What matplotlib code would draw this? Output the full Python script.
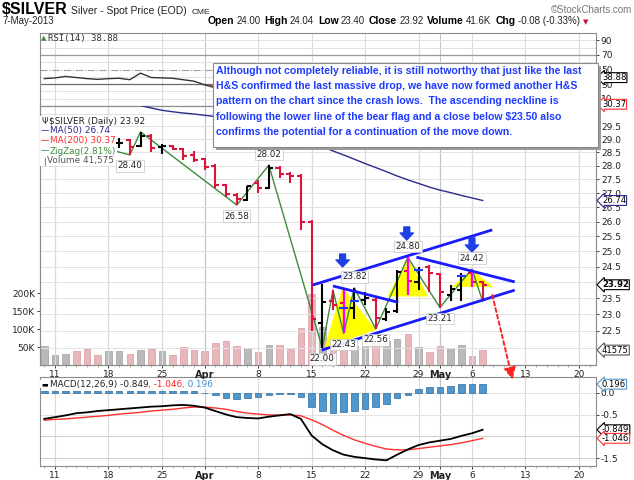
import numpy as np
import matplotlib
matplotlib.use("Agg")
import matplotlib.pyplot as plt
from matplotlib.patches import Rectangle, Polygon, FancyArrowPatch
from matplotlib.ticker import FixedLocator, NullLocator, FixedFormatter

W, H = 634, 480

# trading-day index, 0 = 8-Mar-2013, 41 = 7-May-2013
days = np.arange(42)
tick_pos = [1, 6, 11, 15, 20, 25, 30, 35, 37, 40, 45, 50]
tick_lab = ["11", "18", "25", "Apr", "8", "15", "22", "29", "May", "6", "13", "20"]
month_ticks = [15, 37]

opens = [28.80, 28.95, 29.00, 29.05, 28.85, 28.70, 28.65, 28.84, 28.95, 28.75,
         29.12, 28.70, 28.72, 28.62, 28.40, 28.25, 28.00, 27.28, 26.95, 26.75,
         27.35, 27.20, 27.92, 27.70, 27.62, 25.99, 22.74, 23.40, 23.35, 23.20,
         23.45, 23.45, 22.85, 23.10, 24.35, 24.00, 24.50, 24.25, 23.60, 23.75,
         24.30, 24.00]
highs = [29.05, 29.10, 29.15, 29.10, 28.95, 28.85, 28.90, 29.04, 29.00, 29.28,
         29.18, 28.80, 28.78, 28.68, 28.55, 28.30, 28.07, 27.32, 27.00, 27.27,
         27.46, 28.02, 27.98, 27.75, 27.68, 26.05, 23.94, 23.75, 23.80, 23.82,
         23.70, 23.50, 23.20, 24.40, 24.80, 24.50, 24.55, 24.30, 23.90, 24.30,
         24.42, 24.04]
lows = [28.60, 28.75, 28.85, 28.75, 28.60, 28.55, 28.60, 28.66, 28.40, 28.70,
        28.50, 28.45, 28.58, 28.22, 28.15, 27.85, 27.20, 26.85, 26.58, 26.72,
        27.02, 27.15, 27.55, 27.35, 25.72, 22.50, 22.00, 23.13, 22.43, 22.85,
        23.30, 22.56, 22.80, 23.05, 23.60, 23.75, 23.70, 23.21, 23.40, 23.40,
        23.85, 23.40]
closes = [28.95, 29.00, 29.05, 28.85, 28.70, 28.65, 28.83, 28.86, 28.70, 29.12,
          28.68, 28.72, 28.62, 28.35, 28.22, 27.95, 27.28, 26.98, 26.80, 27.25,
          27.20, 27.92, 27.70, 27.62, 26.00, 22.85, 23.37, 23.30, 23.20, 23.42,
          23.50, 22.88, 23.06, 24.33, 24.05, 24.40, 24.28, 23.70, 23.80, 24.20,
          24.00, 23.92]
volume_k = [53, 27, 32, 39, 44, 27, 39, 39, 30, 41, 44, 39, 27, 50, 41, 39,
            60, 67, 53, 48, 37, 56, 56, 44, 103, 197, 105, 87, 60, 52, 52, 68,
            66, 73, 87, 49, 37, 52, 46, 57, 25, 41.575]
ma50 = [30.90, 30.85, 30.80, 30.75, 30.70, 30.62, 30.55, 30.50, 30.42, 30.32,
        30.22, 30.13, 30.07, 30.02, 29.98, 29.93, 29.88, 29.80, 29.72, 29.64,
        29.56, 29.48, 29.40, 29.30, 29.18, 28.95, 28.72, 28.55, 28.40, 28.24,
        28.08, 27.93, 27.78, 27.62, 27.48, 27.35, 27.22, 27.11, 27.02, 26.92,
        26.83, 26.74]
ma200 = [30.80, 30.78, 30.77, 30.75, 30.74, 30.72, 30.71, 30.69, 30.68, 30.67,
         30.65, 30.64, 30.63, 30.62, 30.60, 30.59, 30.58, 30.57, 30.56, 30.55,
         30.54, 30.53, 30.52, 30.51, 30.50, 30.49, 30.48, 30.47, 30.46, 30.45,
         30.45, 30.44, 30.43, 30.42, 30.42, 30.41, 30.40, 30.40, 30.39, 30.38,
         30.38, 30.37]
zz_idx = [2, 8, 9, 18, 21, 26, 27, 28, 29, 31, 34, 37, 40, 41]
zz_val = [29.05, 28.40, 29.28, 26.58, 28.02, 22.00, 23.75, 22.43, 23.82, 22.56,
          24.80, 23.21, 24.42, 23.40]
zz_labels = {8: "28.40", 18: "26.58", 21: "28.02", 26: "22.00", 28: "22.43",
             29: "23.82", 31: "22.56", 34: "24.80", 37: "23.21", 40: "24.42"}
rsi = [37.5, 38.5, 40.5, 39.0, 37.5, 36.5, 37.5, 38.0, 36.0, 45.0, 39.0, 38.5,
       38.0, 36.0, 34.0, 29.0, 25.0, 22.0, 21.0, 28.0, 27.0, 38.0, 35.0, 34.0,
       22.0, 12.0, 22.0, 21.0, 20.0, 24.0, 25.0, 21.0, 24.0, 38.0, 36.0, 41.0,
       39.0, 34.0, 36.0, 41.0, 40.0, 38.88]
macd = [-0.60, -0.56, -0.52, -0.47, -0.45, -0.42, -0.40, -0.38, -0.36, -0.34,
        -0.32, -0.31, -0.29, -0.28, -0.30, -0.34, -0.42, -0.50, -0.56, -0.58,
        -0.59, -0.55, -0.52, -0.49, -0.60, -0.98, -1.18, -1.32, -1.42, -1.47,
        -1.50, -1.53, -1.55, -1.42, -1.30, -1.20, -1.14, -1.10, -1.06, -0.99,
        -0.93, -0.849]
signal = [-0.63, -0.61, -0.60, -0.58, -0.56, -0.54, -0.52, -0.49, -0.47, -0.45,
          -0.42, -0.40, -0.38, -0.35, -0.33, -0.33, -0.35, -0.38, -0.43, -0.47,
          -0.49, -0.51, -0.51, -0.51, -0.53, -0.62, -0.73, -0.86, -0.98, -1.08,
          -1.16, -1.23, -1.29, -1.31, -1.31, -1.28, -1.25, -1.22, -1.19, -1.15,
          -1.10, -1.046]
hist = [0.03, 0.04, 0.05, 0.05, 0.05, 0.05, 0.05, 0.05, 0.05, 0.05, 0.05, 0.05,
        0.05, 0.05, 0.03, -0.01, -0.06, -0.12, -0.14, -0.12, -0.10, -0.06,
        -0.04, -0.02, -0.09, -0.33, -0.41, -0.46, -0.44, -0.42, -0.37, -0.32,
        -0.25, -0.11, -0.05, 0.08, 0.14, 0.14, 0.15, 0.19, 0.19, 0.196]

# hand-drawn annotations (trading-day index, price)
channel_lines = [((25.1, 23.91), (41.9, 25.72)), ((25.95, 21.94), (44.0, 23.75)),
                 ((27.0, 23.88), (33.1, 23.37)), ((34.8, 24.81), (44.0, 24.01))]
hs_triangles = [[(26.2, 22.0), (27.9, 23.85), (31.0, 22.53)],
                [(32.1, 23.55), (34.0, 24.80), (35.9, 23.55)],
                [(38.1, 23.85), (40.0, 24.40), (42.0, 23.85)]]
down_arrows = [(27.9, 24.91, 24.49), (33.9, 25.82, 25.38), (40.0, 25.45, 24.98)]
target_arrow = ((41.9, 23.60), (43.8, 21.10))
magenta_idx = [28, 34, 40]
blue_tick_idx = [28, 29, 35, 39]

UP, DOWN = "black", "#dc143c"
GRID = "#e2e2e2"
SPINE = "#8c8c8c"
FS = 6.5

fig = plt.figure(figsize=(W / 100, H / 100), dpi=100)


def rect(l, t, r, b):
    return [l / W, 1 - b / H, (r - l) / W, (b - t) / H]


XL = (-0.4, 51.6)


def style(ax):
    ax.set_xlim(XL)
    for s in ax.spines.values():
        s.set_color(SPINE)
        s.set_linewidth(0.8)
    for p in tick_pos:
        ax.axvline(p, color="#c4c4c4" if p in month_ticks else "#dadada", lw=0.8, zorder=0)
    ax.tick_params(axis="both", labelsize=FS, colors="#222", length=2, width=0.6, pad=1.5)


def date_labels(ax):
    ax.set_xticks(tick_pos)
    ax.set_xticklabels(tick_lab)
    for t, lab in zip(ax.get_xticklabels(), tick_lab):
        if lab in ("Apr", "May"):
            t.set_fontweight("bold")
            t.set_fontsize(7)
    ax.xaxis.set_minor_locator(FixedLocator(np.arange(0, 52)))
    ax.tick_params(axis="x", which="minor", length=1.5, color="#999")


def value_box(ax, val, txt, ec, bold=False):
    ax.annotate(txt, xy=(1, val), xycoords=("axes fraction", "data"),
                xytext=(6, 0), textcoords="offset pixels", ha="left", va="center",
                fontsize=6.1, fontweight="bold" if bold else "normal", color="black",
                bbox=dict(boxstyle="larrow,pad=0.05", fc="white", ec=ec, lw=0.8),
                annotation_clip=False, zorder=20)


# ---------------- RSI panel
ax_r = fig.add_axes(rect(40, 33, 596, 106))
style(ax_r)
ax_r.set_ylim(0, 100)
for v in [10, 20, 40, 60, 80, 90]:
    ax_r.axhline(v, color=GRID, lw=0.7, zorder=0)
ax_r.axhline(70, color="#9a9a9a", lw=0.9)
ax_r.axhline(30, color="#6a6a6a", lw=0.9)
ax_r.axhline(50, color="#a0a0a0", lw=0.8, ls="-.")
r_arr = np.array(rsi)
ax_r.fill_between(days, r_arr, 30, where=r_arr < 30, interpolate=True, color="#ff6060", lw=0)
ax_r.plot(days, rsi, color="#333", lw=1.0)
ax_r.yaxis.tick_right()
ax_r.set_yticks([10, 30, 50, 70, 90])
ax_r.set_xticks(tick_pos)
ax_r.tick_params(axis="x", labelbottom=False, length=0)
value_box(ax_r, rsi[-1], f"{rsi[-1]:.2f}", "black")

# ---------------- price panel (volume underneath)
ax_v = fig.add_axes(rect(40, 106, 596, 365), zorder=0)
style(ax_v)
ax_v.set_ylim(0, 722)
up = [True] + [closes[i] >= closes[i - 1] for i in range(1, len(closes))]
ax_v.bar(days, volume_k, width=0.62,
         color=["#b9b9b9" if u else "#e8b7bc" for u in up],
         edgecolor=["#a0a0a0" if u else "#d99aa2" for u in up], lw=0.5, zorder=1)
ax_v.set_yticks([50, 100, 150, 200])
ax_v.set_yticklabels(["50K", "100K", "150K", "200K"])
ax_v.set_xticks(tick_pos)
ax_v.tick_params(axis="x", labelbottom=False, length=0)

ax = fig.add_axes(rect(40, 106, 596, 365), zorder=1)
ax.set_facecolor("none")
ax.set_yscale("log")
ax.set_ylim(21.51, 30.30)
style(ax)
for v in np.arange(22.0, 30.01, 0.5):
    ax.axhline(v, color=GRID, lw=0.7, zorder=0)
ax.yaxis.tick_right()
# 24.0 and 22.0 sit under the value boxes, as in the source chart
price_ticks = [v for v in np.arange(22.5, 29.51, 0.5) if abs(v - 24.0) > 0.01]
ax.yaxis.set_major_locator(FixedLocator(price_ticks))
ax.yaxis.set_major_formatter(FixedFormatter([f"{v:.1f}" for v in price_ticks]))
ax.yaxis.set_minor_locator(NullLocator())
date_labels(ax)

for tri in hs_triangles:
    ax.add_patch(Polygon(tri, closed=True, color="#ffff00", lw=0, zorder=2))

ax.plot(days, ma50, color="#2a2a8c", lw=1.0, zorder=3)
ax.plot(days, ma200, color="#ff2a2a", lw=1.0, zorder=3)
ax.plot(zz_idx, zz_val, color="#3d8b3d", lw=1.0, zorder=4)

bar_col = [UP if u else DOWN for u in up]
ax.vlines(days, lows, highs, colors=bar_col, lw=1.5, zorder=5)
ax.hlines(opens, days - 0.38, days, colors=bar_col, lw=1.5, zorder=5)
ax.hlines(closes, days, days + 0.38, colors=bar_col, lw=1.5, zorder=5)
for i in magenta_idx:
    ax.vlines(i, lows[i], highs[i], colors="#ff00ff", lw=1.6, zorder=6)
for i in blue_tick_idx:
    ax.hlines(closes[i], i - 0.4, i + 0.4, colors="#1e3cff", lw=1.5, zorder=6)

for (x0, y0), (x1, y1) in channel_lines:
    ax.plot([x0, x1], [y0, y1], color="#1a1aff", lw=2.0, zorder=7, solid_capstyle="butt")

for x, top, bot in down_arrows:
    ax.add_patch(FancyArrowPatch((x, top), (x, bot), shrinkA=0, shrinkB=0,
                                 arrowstyle="simple,head_width=0.95,head_length=0.5,tail_width=0.42",
                                 mutation_scale=10, color="#1f3fe6", zorder=8))

ax.annotate("", xy=target_arrow[1], xytext=target_arrow[0], annotation_clip=False,
            arrowprops=dict(arrowstyle="-|>,head_width=0.35,head_length=0.7", color="#ff2020",
                            lw=1.4, ls=(0, (2, 1.5)), shrinkA=0, shrinkB=0, clip_on=False),
            zorder=9)

for i, v in zip(zz_idx, zz_val):
    if i not in zz_labels:
        continue
    k = zz_idx.index(i)
    nb = [zz_val[j] for j in (k - 1, k + 1) if 0 <= j < len(zz_val)]
    peak = v > max(nb)
    ax.annotate(zz_labels[i], xy=(i, v), xytext=(0, 11 if peak else -11),
                textcoords="offset pixels", ha="center", va="center", fontsize=6.3,
                color="#222", zorder=9,
                bbox=dict(boxstyle="square,pad=0.15", fc="white", ec="#c8c8c8", lw=0.6, alpha=0.9))

value_box(ax, ma200[-1], f"{ma200[-1]:.2f}", "#ff2a2a")
value_box(ax, ma50[-1], f"{ma50[-1]:.2f}", "#2a2a8c")
value_box(ax, closes[-1], f"{closes[-1]:.2f}", "black", bold=True)
value_box(ax_v, volume_k[-1], f"{int(round(volume_k[-1] * 1000))}", "#555")

# ---------------- MACD panel
ax_m = fig.add_axes(rect(40, 377, 596, 466))
style(ax_m)
ax_m.set_ylim(-1.68, 0.36)
for v in [0.0, -0.5, -1.0, -1.5]:
    ax_m.axhline(v, color=GRID if v > -0.9 else "#d0d0d0", lw=0.8, zorder=0)
ax_m.bar(days, hist, width=0.62, color="#4f97cc", edgecolor="#2c6c9c", lw=0.5, zorder=2)
ax_m.plot(days, signal, color="#ff3030", lw=1.0, zorder=3)
ax_m.plot(days, macd, color="black", lw=1.3, zorder=4)
ax_m.yaxis.tick_right()
ax_m.set_yticks([0.0, -0.5, -1.5])
ax_m.set_yticklabels(["0.0", "-0.5", "-1.5"])
date_labels(ax_m)
value_box(ax_m, hist[-1], f"{hist[-1]:.3f}", "#4f97cc")
value_box(ax_m, macd[-1], f"{macd[-1]:.3f}", "black")
value_box(ax_m, signal[-1], f"{signal[-1]:.3f}", "#ff3030")

# ---------------- texts
renderer = fig.canvas.get_renderer()


def row(x, y, parts, z=6, va="center"):
    for s, kw in parts:
        opts = dict(fontsize=FS, color="#222", family="DejaVu Sans")
        opts.update(kw)
        gap = opts.pop("gap", 0)
        bb = opts.pop("bb", None)
        t = fig.text((x + gap) / W, 1 - y / H, s, ha="left", va=va, zorder=z, **opts)
        if bb:
            t.set_bbox(dict(boxstyle="square,pad=0.08", fc="white", ec="none"))
        x += gap + t.get_window_extent(renderer).width
    return x


row(2, 14, [("$SILVER", dict(fontsize=11.5, weight="bold", color="black",
                             family=["Liberation Sans Narrow", "Liberation Sans"])),
            ("Silver - Spot Price (EOD)", dict(fontsize=7.5, family="Liberation Sans", gap=3)),
            ("CME", dict(fontsize=6, family="Liberation Sans", gap=5))], va="baseline")
fig.text(632 / W, 1 - 13 / H, "\u00a9StockCharts.com", ha="right", va="baseline",
         fontsize=7, color="#777", family="Liberation Sans")
fig.text(2 / W, 1 - 24 / H, "7-May-2013", ha="left", va="baseline", fontsize=7,
         family="Liberation Sans", color="#222")
hdr = []
for lab, val in [("Open", "24.00"), ("High", "24.04"), ("Low", "23.40"), ("Close", "23.92"),
                 ("Volume", "41.6K"), ("Chg", "-0.08 (-0.33%)")]:
    hdr.append((lab, dict(fontsize=7.5, weight="bold", family="Liberation Sans",
                          color="black", gap=4 if hdr else 0)))
    hdr.append((val, dict(fontsize=7, family="Liberation Sans", gap=2)))
xe = row(208, 24, hdr, va="baseline")
fig.text((xe + 3) / W, 1 - 24 / H, "\u25bc", ha="left", va="baseline", fontsize=5,
         color="#d01030", family="DejaVu Sans")

# panel legends
row(41, 38, [("\u25b2", dict(fontsize=5, color="#3d8b3d")),
             ("RSI(14) 38.88", dict(family="DejaVu Sans Mono", gap=2, color="#333"))])
row(41, 121, [("\u03a8", dict(fontsize=6, bb=True)),
              ("$SILVER (Daily) 23.92", dict(gap=1, bb=True, fontsize=6.4))])
row(41, 131, [("\u2014", dict(color="#2a2a8c", bb=True)),
              ("MA(50) 26.74", dict(color="#2a2a8c", bb=True, fontsize=6.4))])
row(41, 141, [("\u2014", dict(color="#ff2a2a", bb=True)),
              ("MA(200) 30.37", dict(color="#ff2a2a", bb=True, fontsize=6.4))])
row(41, 151, [("\u2014", dict(color="#3d8b3d", bb=True)),
              ("ZigZag(2.81%)", dict(color="#3d8b3d", bb=True, fontsize=6.4))])
row(41, 161, [("\u2590", dict(color="#888", bb=True, fontsize=5.5)),
              ("Volume 41,575", dict(color="#555", bb=True, fontsize=6.4))])
row(41, 384, [("\u25ac", dict(color="black", fontsize=5, bb=True)),
              ("MACD(12,26,9) -0.849", dict(gap=2, bb=True, fontsize=6.4)),
              (", -1.046", dict(color="#ff2020", bb=True, fontsize=6.4)),
              (", 0.196", dict(color="#3a8fd0", bb=True, fontsize=6.4))])

# annotation box
bx0, by0, bx1, by1 = 213, 63, 598, 147
fig.add_artist(Rectangle(((bx0 + 3) / W, 1 - (by1 + 3) / H), (bx1 - bx0) / W, (by1 - by0) / H,
                         transform=fig.transFigure, fc="#9a9a9a", ec="none", zorder=9))
fig.add_artist(Rectangle((bx0 / W, 1 - by1 / H), (bx1 - bx0) / W, (by1 - by0) / H,
                         transform=fig.transFigure, fc="white", ec="#8a8a8a", lw=0.8, zorder=10))
note = ["Although not completely reliable, it is still notworthy that just like the last",
        "H&S confirmed the last massive drop, we have now formed another H&S",
        "pattern on the chart since the crash lows.  The ascending neckline is",
        "following the lower line of the bear flag and a close below $23.50 also",
        "confirms the potential for a continuation of the move down."]
probe = fig.text(0, 0, note[0], fontsize=7, weight="bold", family="Liberation Sans")
fsz = 7 * 369 / probe.get_window_extent(renderer).width
probe.remove()
for k, line in enumerate(note):
    fig.text(216 / W, 1 - (74 + 15.2 * k) / H, line, ha="left", va="baseline",
             fontsize=fsz, weight="bold", color="#1f3cff", family="Liberation Sans", zorder=11)

fig.savefig("out.png", dpi=100, facecolor="white")
